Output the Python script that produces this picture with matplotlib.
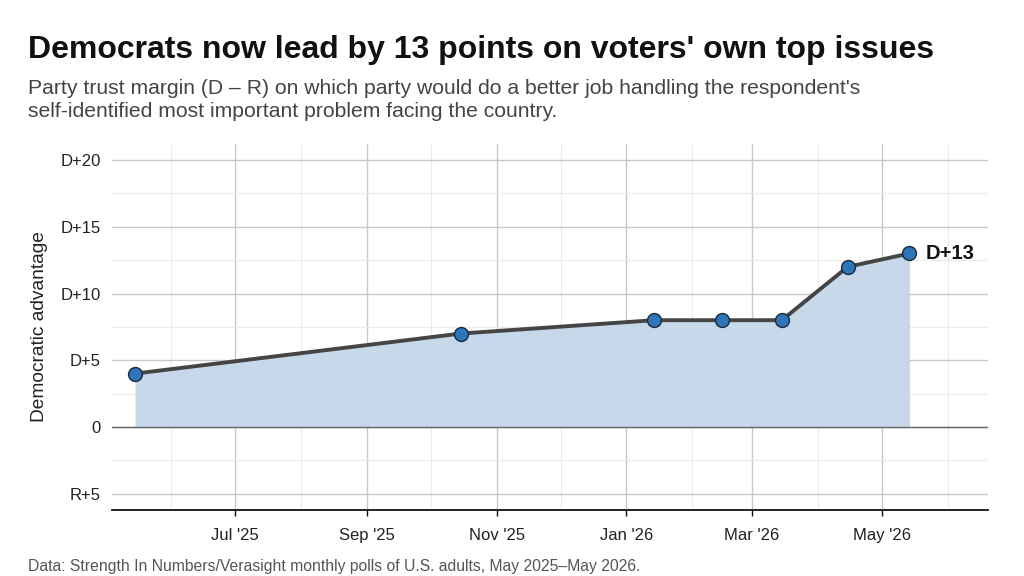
import numpy as np
import pandas as pd
import matplotlib
matplotlib.use("Agg")
import matplotlib.pyplot as plt
import matplotlib.dates as mdates

plt.rcParams['font.family'] = ['Liberation Sans', 'DejaVu Sans']

# data
dates = pd.to_datetime(['2025-05-15', '2025-10-15', '2026-01-14', '2026-02-15',
                        '2026-03-15', '2026-04-15', '2026-05-14'])
margin = [4, 7, 8, 8, 8, 12, 13]
y_ticks = [-5, 0, 5, 10, 15, 20]
y_labels = ['R+5', '0', 'D+5', 'D+10', 'D+15', 'D+20']

fig = plt.figure(figsize=(10.24, 5.76), dpi=100)
ax = fig.add_axes([0.109, 0.115, 0.856, 0.635])

# grid
ax.set_axisbelow(True)
ax.yaxis.set_minor_locator(matplotlib.ticker.MultipleLocator(2.5))
ax.xaxis.set_major_locator(mdates.MonthLocator(bymonth=[1, 3, 5, 7, 9, 11]))
ax.xaxis.set_minor_locator(mdates.MonthLocator(bymonth=[2, 4, 6, 8, 10, 12]))
ax.xaxis.set_major_formatter(mdates.DateFormatter("%b '%y"))
ax.grid(which='major', color='#c8c8c8', lw=1.0)
ax.grid(which='minor', color='#ebebeb', lw=0.8)

ax.fill_between(dates, margin, 0, color='#c6d8ea', lw=0, zorder=2)
ax.axhline(0, color='#666666', lw=1.0, zorder=2.5)
ax.plot(dates, margin, color='#454545', lw=2.8, zorder=3)
ax.scatter(dates, margin, s=100, color='#2e74b8', edgecolor='#1a2a3a', lw=1.0, zorder=4)
ax.annotate('D+' + str(margin[-1]), (dates[-1], margin[-1]), xytext=(12, 0),
            textcoords='offset points', va='center', ha='left',
            fontsize=14.5, fontweight='bold', color='#111111')

ax.set_yticks(y_ticks)
ax.set_yticklabels(y_labels)
ax.set_ylim(-6.2, 21.2)
ax.set_xlim(pd.Timestamp('2025-05-04'), pd.Timestamp('2026-06-20'))

for s in ['left', 'right', 'top']:
    ax.spines[s].set_visible(False)
ax.spines['bottom'].set_color('#111111')
ax.spines['bottom'].set_linewidth(1.3)
ax.tick_params(axis='y', which='both', length=0, labelsize=12, colors='#222222', pad=8)
ax.tick_params(axis='x', which='major', length=4, width=1, color='#111111',
               labelsize=12, labelcolor='#222222', pad=9)
ax.tick_params(axis='x', which='minor', length=0)
ax.set_ylabel('Democratic advantage', fontsize=13.8, color='#222222', labelpad=9)

fig.text(0.027, 0.913, "Democrats now lead by 13 points on voters' own top issues",
         fontsize=23, fontweight='bold', color='#111111', va='center')
fig.text(0.027, 0.826, "Party trust margin (D \u2013 R) on which party would do a better job handling the respondent's\n"
         "self-identified most important problem facing the country.",
         fontsize=15.2, color='#444444', va='center', linespacing=1.25)
fig.text(0.027, 0.004, "Data: Strength In Numbers/Verasight monthly polls of U.S. adults, May 2025\u2013May 2026.",
         fontsize=11.3, color='#555555', va='bottom')

fig.savefig('out.png', dpi=100)
